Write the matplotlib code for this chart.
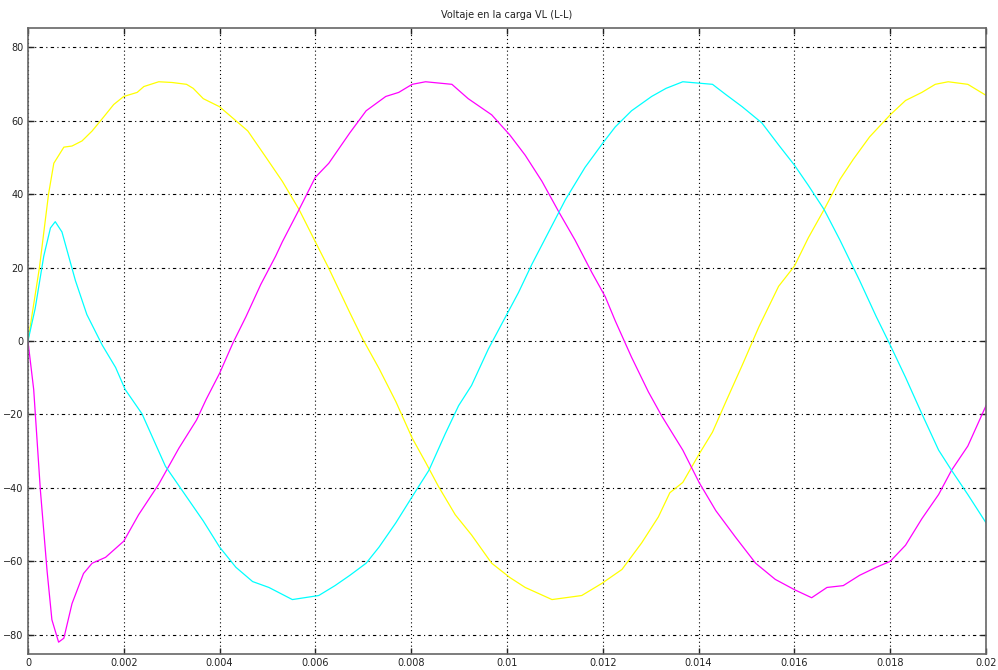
import numpy as np
import matplotlib
matplotlib.use("Agg")
import matplotlib.pyplot as plt

# time in ms, voltage
t_yellow = [0, 0.24, 0.43, 0.54, 0.75, 0.92, 1.13, 1.34, 1.58, 1.79, 2.0, 2.28, 2.42, 2.73, 3.01,
            3.31, 3.45, 3.66, 4.0, 4.34, 4.59, 4.97, 5.31, 5.66, 6.0, 6.28, 6.72,
            6.99, 7.33, 7.68, 8.02, 8.3, 8.57, 8.92, 9.26, 9.68, 10.06,
            10.38, 10.94, 11.56, 11.98, 12.4, 12.81, 13.16, 13.4,
            13.67, 14.01, 14.29, 14.57, 14.91, 15.26, 15.67, 16.0, 16.29, 16.62,
            16.95, 17.23, 17.57, 18.0, 18.32, 18.66, 18.94, 19.21, 19.62, 20.0]
v_yellow = [0, 20, 40, 48.4, 52.8, 53.1, 54.5, 57.2, 61, 64.4, 66.6, 67.7, 69.3, 70.6, 70.4,
            69.9, 68.8, 66, 63.8, 60, 57.2, 50, 43.5, 35.8, 27, 19.8, 7.7,
            0.5, -7.5, -16.5, -26.4, -33, -39.6, -47.3, -52.8, -60.5, -64.4,
            -67.1, -70.4, -69.3, -66, -62.2, -55, -47.9, -41.3,
            -38.5, -30.8, -24.8, -16.5, -6.6, 3.9, 14.9, 20.4, 28.1, 35.8,
            44, 49.5, 55.6, 61.6, 65.5, 67.7, 69.9, 70.6, 69.9, 66.9]

t_cyan = [0, 0.15, 0.33, 0.47, 0.57, 0.71, 0.99, 1.23, 1.55, 1.83, 2.03, 2.38, 2.87,
          3.31, 3.66, 4.0, 4.34, 4.69, 5.03, 5.52, 6.07, 6.41, 6.72,
          7.06, 7.33, 7.68, 8.02, 8.37, 8.71, 8.99, 9.26, 9.61, 9.97,
          10.24, 10.52, 10.87, 11.22, 11.63, 12.0, 12.26, 12.6, 13.02, 13.32,
          13.67, 14.29, 14.57, 14.91, 15.32, 15.67, 16.0, 16.29, 16.62,
          16.95, 17.36, 17.71, 18.0, 18.32, 18.66, 19.01, 19.28, 19.62, 20.0]
v_cyan = [0, 8.8, 23.1, 30.8, 32.5, 29.7, 16.5, 7.2, -1.1, -7.2, -13.2, -19.8, -34.1,
          -42.4, -49, -56.1, -61.6, -65.5, -67.1, -70.4, -69.3, -66.6, -63.8,
          -60.5, -56.1, -49.5, -42.4, -35.2, -25.3, -17.6, -12.1, -2.2, 6.6,
          13.2, 20.9, 29.7, 38.5, 47.3, 53.9, 58.3, 62.7, 66.6, 68.8,
          70.6, 69.9, 67.1, 63.8, 59.4, 53.4, 47.9, 42.4, 35.8,
          27.5, 16.5, 6.6, -1.1, -9.9, -19.8, -29.7, -35.2, -41.8, -49.5]

t_magenta = [0, 0.12, 0.26, 0.40, 0.50, 0.64, 0.75, 0.92, 1.16, 1.34, 1.62, 2.0, 2.31, 2.73, 3.15,
             3.52, 3.72, 4.0, 4.28, 4.55, 4.86, 5.17, 5.31, 5.66, 6.0, 6.28, 6.72,
             7.06, 7.47, 7.74, 8.02, 8.3, 8.85, 9.19, 9.68, 10.06,
             10.38, 10.73, 11.08, 11.42, 11.77, 12.05, 12.26, 12.6, 12.95, 13.23,
             13.67, 14.01, 14.36, 14.77, 15.19, 15.6, 16.0, 16.36, 16.68,
             17.02, 17.36, 17.71, 18.0, 18.32, 18.66, 19.01, 19.28, 19.62, 20.0]
v_magenta = [0, -13.2, -40.7, -62.7, -75.9, -82, -80.9, -71.5, -63.3, -60.5, -58.9, -54.5, -47.3, -39, -29.2,
             -21.5, -15.9, -8.8, -0.5, 6.6, 15.4, 23.1, 27, 35.8, 44.6, 48.4, 56.7,
             62.7, 66.6, 67.7, 69.9, 70.6, 69.9, 66, 61.6, 56.1,
             50.6, 43.5, 35.2, 27.5, 18.7, 12.1, 5.5, -4.4, -13.8, -20.4,
             -29.7, -38.5, -46.2, -53.4, -60.5, -64.9, -67.7, -69.9, -67.1,
             -66.6, -63.8, -61.6, -60, -55.6, -48.4, -41.8, -35.2, -28.6, -17.6]

x_ticks = [0, 0.002, 0.004, 0.006, 0.008, 0.01, 0.012, 0.014, 0.016, 0.018, 0.02]
x_labels = ["0", "0.002", "0.004", "0.006", "0.008", "0.01", "0.012", "0.014", "0.016", "0.018", "0.02"]
y_ticks = [-80, -60, -40, -20, 0, 20, 40, 60, 80]

fig = plt.figure(figsize=(9.98, 6.70), dpi=100)
ax = fig.add_axes([0.028, 0.024, 0.960, 0.934])

ax.plot(np.array(t_yellow) * 1e-3, v_yellow, color="#ffff00", lw=0.9)
ax.plot(np.array(t_magenta) * 1e-3, v_magenta, color="#ff00ff", lw=0.9)
ax.plot(np.array(t_cyan) * 1e-3, v_cyan, color="#00ffff", lw=0.9)

ax.set_xlim(0, 0.02)
ax.set_ylim(-85.2, 85.2)
ax.set_xticks(x_ticks)
ax.set_xticklabels(x_labels)
ax.set_yticks(y_ticks)
ax.tick_params(direction="in", length=4, width=1, top=True, right=True,
               labelsize=7, colors="#222222", pad=3)
for s in ax.spines.values():
    s.set_color("#666666")
    s.set_linewidth(1.2)

ax.xaxis.grid(True, color="black", linestyle=(0, (1, 2.5)), lw=0.8)
ax.yaxis.grid(True, color="black", linestyle=(0, (3, 3, 1, 3)), lw=0.8)
ax.set_axisbelow(True)

ax.set_title("Voltaje en la carga VL (L-L)", fontsize=7, pad=7, color="#222222")

fig.savefig("out.png", dpi=100)
